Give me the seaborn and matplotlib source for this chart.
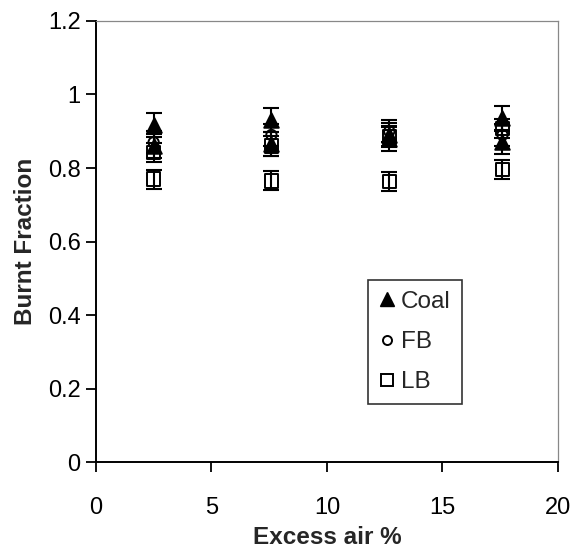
import matplotlib
matplotlib.use("Agg")
import matplotlib.pyplot as plt
import seaborn as sns
import pandas as pd
from matplotlib.lines import Line2D

# Data
excess_air = [2.5, 7.6, 12.7, 17.6]
coal_run1 = [0.917, 0.930, 0.890, 0.935]
coal_run2 = [0.860, 0.865, 0.880, 0.870]
fb_run1 = [0.870, 0.890, 0.900, 0.890]
lb_run1 = [0.842, 0.860, 0.885, 0.908]
lb_run2 = [0.770, 0.765, 0.763, 0.796]
err_coal = 0.033
err_fb = 0.03
err_lb = 0.026

rows = []
for vals, name, err in [(coal_run1, "Coal", err_coal), (coal_run2, "Coal", err_coal),
                        (fb_run1, "FB", err_fb),
                        (lb_run1, "LB", err_lb), (lb_run2, "LB", err_lb)]:
    for x, v in zip(excess_air, vals):
        rows.append({"x": x, "y": v, "fuel": name, "err": err})
df = pd.DataFrame(rows)

sns.set_style("ticks")
plt.rcParams["font.family"] = ["Liberation Sans", "DejaVu Sans"]

fig = plt.figure(figsize=(5.74, 5.51), dpi=100)
ax = fig.add_axes([0.167, 0.161, 0.805, 0.801])

# error bars
ax.errorbar(df["x"], df["y"], yerr=df["err"], fmt="none", ecolor="black",
            elinewidth=1.5, capsize=6, capthick=1.5, zorder=2)

styles = {
    "Coal": dict(marker="^", s=110, facecolor="black", edgecolor="black"),
    "FB": dict(marker="o", s=55, facecolor="none", edgecolor="black"),
    "LB": dict(marker="s", s=95, facecolor="none", edgecolor="black"),
}
for name in ["LB", "FB", "Coal"]:
    sub = df[df["fuel"] == name]
    st = styles[name]
    sns.scatterplot(x=sub["x"], y=sub["y"], ax=ax, marker=st["marker"], s=st["s"],
                    facecolor=st["facecolor"], edgecolor=st["edgecolor"],
                    linewidth=1.4, label=name, zorder=3, legend=False)

handles = [
    Line2D([], [], linestyle="none", marker="^", markersize=10, markerfacecolor="black", markeredgecolor="black"),
    Line2D([], [], linestyle="none", marker="o", markersize=6.5, markerfacecolor="none", markeredgecolor="black", markeredgewidth=1.4),
    Line2D([], [], linestyle="none", marker="s", markersize=8.5, markerfacecolor="none", markeredgecolor="black", markeredgewidth=1.4),
]
leg = ax.legend(handles, ["Coal", "FB", "LB"], loc="upper left", bbox_to_anchor=(0.589, 0.413),
                frameon=True, fancybox=False, fontsize=17.5, handletextpad=0.2,
                handlelength=0.7, labelspacing=0.75, borderpad=0.45, borderaxespad=0)
leg.get_frame().set_edgecolor("black")
leg.get_frame().set_linewidth(1.2)

ax.set_xlim(0, 20)
ax.set_ylim(0, 1.2)
ax.set_xticks([0, 5, 10, 15, 20])
ax.set_yticks([0, 0.2, 0.4, 0.6, 0.8, 1.0, 1.2])
ax.set_yticklabels(["0", "0.2", "0.4", "0.6", "0.8", "1", "1.2"])
ax.tick_params(axis="both", labelsize=17, direction="out", length=7, width=1.3, colors="black")
ax.tick_params(axis="x", pad=18)
ax.tick_params(axis="y", pad=4)
ax.set_xlabel("Excess air %", fontsize=17.5, fontweight="bold", labelpad=5)
ax.set_ylabel("Burnt Fraction", fontsize=17.5, fontweight="bold", labelpad=8)

for side in ["left", "bottom"]:
    ax.spines[side].set_color("black")
    ax.spines[side].set_linewidth(1.4)
for side in ["top", "right"]:
    ax.spines[side].set_visible(True)
    ax.spines[side].set_color("#888888")
    ax.spines[side].set_linewidth(0.9)

fig.savefig("out.png", dpi=100, facecolor="white")
